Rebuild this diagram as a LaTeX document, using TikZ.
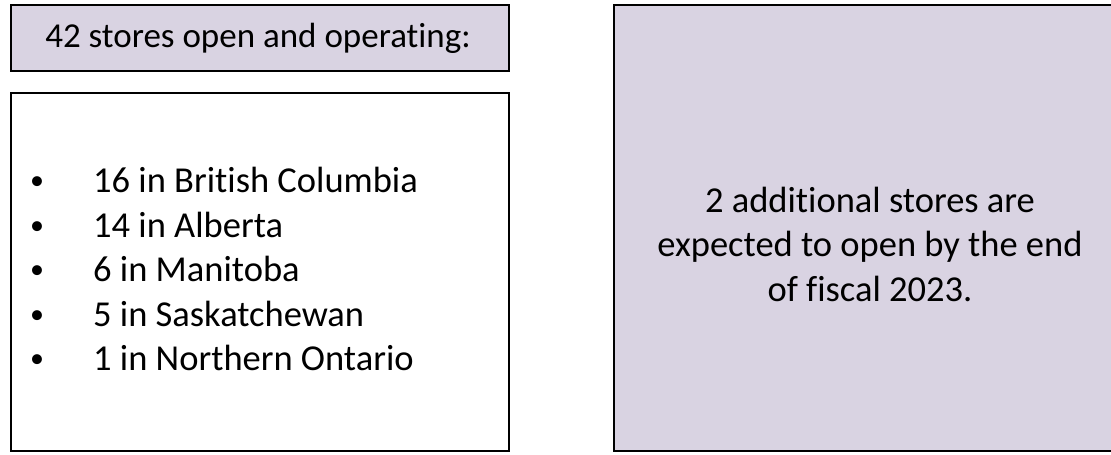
\documentclass[tikz,border=0pt]{standalone}
\usepackage{fontspec}
\setmainfont{Carlito}[Ligatures={NoCommon,NoRare},Contextuals={NoAlternate}]
\definecolor{lav}{HTML}{D9D3E2}
\begin{document}
\begin{tikzpicture}[x=1pt,y=1pt,
  box/.style={draw=black,line width=1.6pt},
  txt/.style={font=\fontsize{36.5}{44.5}\selectfont,inner sep=0pt},
  headtxt/.style={font=\fontsize{35}{42}\selectfont,inner sep=0pt},
  item/.style={txt,anchor=base west},
  bul/.style={font=\fontsize{28}{34}\selectfont,inner sep=0pt,anchor=base}]
\useasboundingbox (0,0) rectangle (1111,455);
% boxes
\filldraw[box,fill=lav] (11,455-5) rectangle (509,455-71);
\draw[box,fill=white] (11,455-93) rectangle (509,455-451);
\filldraw[box,fill=lav] (614,455-5) rectangle (1130,455-451);
% top label
\node[headtxt] (head) at (258,455-38) {42 stores open and operating:};
% list
\foreach \t [count=\i] in {16 in British Columbia,14 in Alberta,6 in Manitoba,5 in Saskatchewan,1 in Northern Ontario}{
  \node[bul] (b\i) at (37,455-190-44.5*\i+44.5) {•};
  \node[item] (l\i) at (93,455-193-44.5*\i+44.5) {\t};
}
% right text
\node[txt,align=center] (right) at (870,455-244) {2 additional stores are\\expected to open by the end\\of fiscal 2023.};
\end{tikzpicture}
\end{document}
